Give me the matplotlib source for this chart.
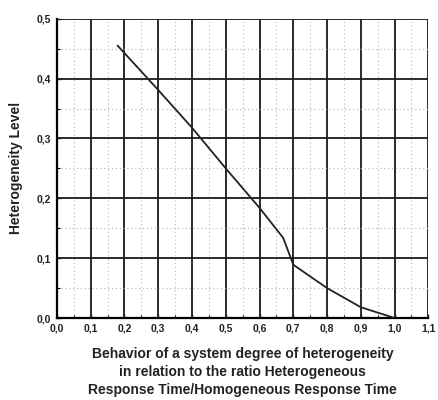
import matplotlib
matplotlib.use('Agg')
import matplotlib.pyplot as plt
from matplotlib.ticker import MultipleLocator, FuncFormatter

plt.rcParams['font.family'] = ['Liberation Sans', 'DejaVu Sans']

# ratio heterogeneous / homogeneous response time vs heterogeneity level
ratio = [0.18, 0.30, 0.40, 0.50, 0.60, 0.67, 0.70, 0.80, 0.90, 1.00]
level = [0.455, 0.381, 0.318, 0.250, 0.184, 0.134, 0.089, 0.050, 0.018, 0.0]

x_label = ('Behavior of a system degree of heterogeneity\n'
           'in relation to the ratio Heterogeneous\n'
           'Response Time/Homogeneous Response Time')
y_label = 'Heterogeneity Level'


def comma(v, pos):
    return f'{v:.1f}'.replace('.', ',')


fig = plt.figure(figsize=(4.38, 4.0), dpi=100)
ax = fig.add_axes([0.130, 0.205, 0.848, 0.748])

ax.plot(ratio, level, color='#222222', lw=1.3, zorder=3)

ax.set_xlim(0, 1.1)
ax.set_ylim(0, 0.5)
ax.xaxis.set_major_locator(MultipleLocator(0.1))
ax.xaxis.set_minor_locator(MultipleLocator(0.05))
ax.yaxis.set_major_locator(MultipleLocator(0.1))
ax.yaxis.set_minor_locator(MultipleLocator(0.05))
ax.xaxis.set_major_formatter(FuncFormatter(comma))
ax.yaxis.set_major_formatter(FuncFormatter(comma))

ax.grid(which='major', color='#1a1a1a', lw=1.3, ls='-')
ax.grid(which='minor', color='#b5b5b5', lw=0.8, ls=(0, (1, 2.5)))
ax.set_axisbelow(True)

for s in ['top', 'right']:
    ax.spines[s].set_visible(False)
for s in ['left', 'bottom']:
    ax.spines[s].set_linewidth(1.6)

ax.tick_params(which='major', direction='in', length=3, width=1,
               labelsize=7.5, colors='#222222', pad=4)
ax.tick_params(which='minor', direction='in', length=2, width=0.8)
for lab in ax.get_xticklabels() + ax.get_yticklabels():
    lab.set_fontweight('bold')

ax.set_xlabel(x_label, fontsize=10, color='#222222', labelpad=10,
              linespacing=1.35, fontweight='bold')
ax.set_ylabel(y_label, fontsize=10, color='#222222', labelpad=10,
              fontweight='bold')

fig.savefig('out.png', dpi=100)
